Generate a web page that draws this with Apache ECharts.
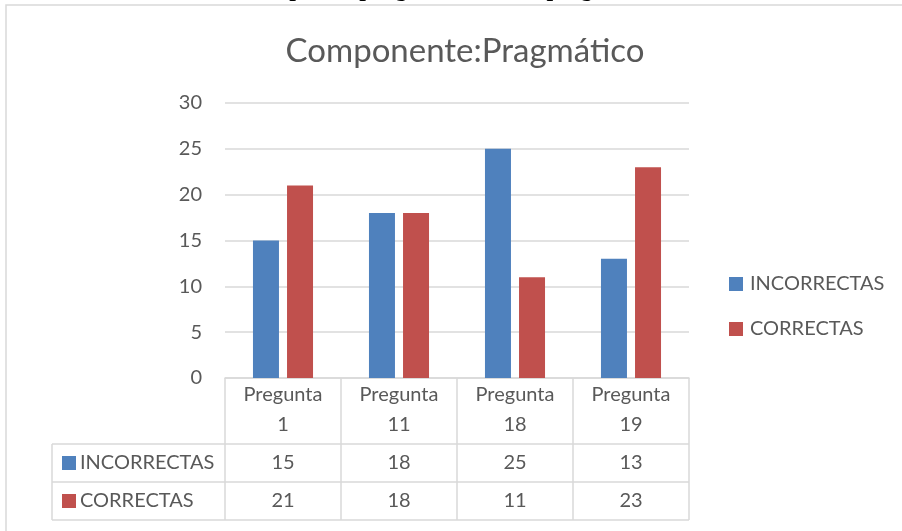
<!DOCTYPE html>
<html><head><meta charset="utf-8">
<script src="https://cdn.jsdelivr.net/npm/echarts@6/dist/echarts.min.js"></script>
<style>html,body{margin:0;padding:0;background:#fff}#c{width:902px;height:531px}</style>
</head><body><div id="c"></div>
<script>
const categories = ['Pregunta 1', 'Pregunta 11', 'Pregunta 18', 'Pregunta 19'];
const seriesNames = ['INCORRECTAS', 'CORRECTAS'];
const incorrectas = [15, 18, 25, 13];
const correctas = [21, 18, 11, 23];
const yTicks = [0, 5, 10, 15, 20, 25, 30];
const chartTitle = 'Componente:Pragmático';
const docTitle = 'Aspectos pragmáticos de la pregunta';

const colors = ['#4f81bd', '#c0504d'];
const FONT = 'Lato';
const TXT = '#595959';
const LINE = '#d9d9d9';
const W = 902, H = 531;
const gridLeft = 225, gridRight = W - 689, gridTop = 103, gridBottom = H - 378;
const tableLeft = 52, rowTop1 = 444, rowTop2 = 482, rowBottom = 520;

const chart = echarts.init(document.getElementById('c'), null, {renderer: 'canvas'});
const yStep = yTicks[1] - yTicks[0];

chart.setOption({
  animation: false,
  color: colors,
  title: {
    text: chartTitle, left: 460, top: 30, textAlign: 'center',
    textStyle: {fontFamily: FONT, fontSize: 33, fontWeight: 'normal', color: TXT}
  },
  legend: {
    orient: 'vertical', left: 729, top: 274, itemWidth: 14, itemHeight: 14, itemGap: 25,
    padding: 0, icon: 'rect', data: seriesNames,
    textStyle: {fontFamily: FONT, fontSize: 20, color: TXT, padding: [0, 0, 0, 2]}
  },
  grid: {left: gridLeft, right: gridRight, top: gridTop, bottom: gridBottom, containLabel: false},
  xAxis: {
    type: 'category', data: categories,
    axisLine: {show: true, lineStyle: {color: LINE, width: 1.5}},
    axisTick: {show: true, length: rowBottom - 378, lineStyle: {color: LINE, width: 1.5}},
    axisLabel: {
      fontFamily: FONT, fontSize: 20, color: TXT, lineHeight: 30, margin: 2,
      formatter: v => v.replace(' ', '\n')
    }
  },
  yAxis: {
    type: 'value', min: yTicks[0], max: yTicks[yTicks.length - 1], interval: yStep,
    axisLine: {show: false}, axisTick: {show: false},
    axisLabel: {fontFamily: FONT, fontSize: 20, color: TXT, margin: 23},
    splitLine: {lineStyle: {color: LINE, width: 1.5}}
  },
  series: [
    {name: seriesNames[0], type: 'bar', data: incorrectas, barWidth: 26, barGap: '31%',
     itemStyle: {color: colors[0]}},
    {name: seriesNames[1], type: 'bar', data: correctas, barWidth: 26,
     itemStyle: {color: colors[1]}}
  ]
});

// data table under the axis
const rows = [incorrectas, correctas];
const rowTops = [rowTop1, rowTop2];
const rowBots = [rowTop2, rowBottom];
const gridRightX = W - gridRight;
const els = [];
els.push({type: 'text', x: 451, y: 2, style: {text: docTitle, font: 'bold 24px "Liberation Serif"', fill: '#000', align: 'center', verticalAlign: 'bottom'}});
els.push({type: 'rect', shape: {x: 6, y: 5, width: W + 10, height: H + 10}, style: {fill: null, stroke: LINE, lineWidth: 1.5}, silent: true});
[rowTop1, rowTop2, rowBottom].forEach(y => {
  els.push({type: 'line', shape: {x1: tableLeft, y1: y, x2: gridRightX, y2: y}, style: {stroke: LINE, lineWidth: 1.5}});
});
els.push({type: 'line', shape: {x1: tableLeft, y1: rowTop1, x2: tableLeft, y2: rowBottom}, style: {stroke: LINE, lineWidth: 1.5}});
rows.forEach((vals, r) => {
  const cy = (rowTops[r] + rowBots[r]) / 2;
  els.push({type: 'rect', shape: {x: 62, y: cy - 7, width: 14, height: 14}, style: {fill: colors[r]}});
  els.push({type: 'text', x: 80, y: cy, style: {text: seriesNames[r], font: '20px ' + FONT, fill: TXT, verticalAlign: 'middle', align: 'left'}});
  vals.forEach((v, i) => {
    const px = chart.convertToPixel({xAxisIndex: 0}, i);
    els.push({type: 'text', x: px, y: cy, style: {text: String(v), font: '20px ' + FONT, fill: TXT, verticalAlign: 'middle', align: 'center'}});
  });
});
chart.setOption({graphic: {elements: els}});
</script>
</body></html>
